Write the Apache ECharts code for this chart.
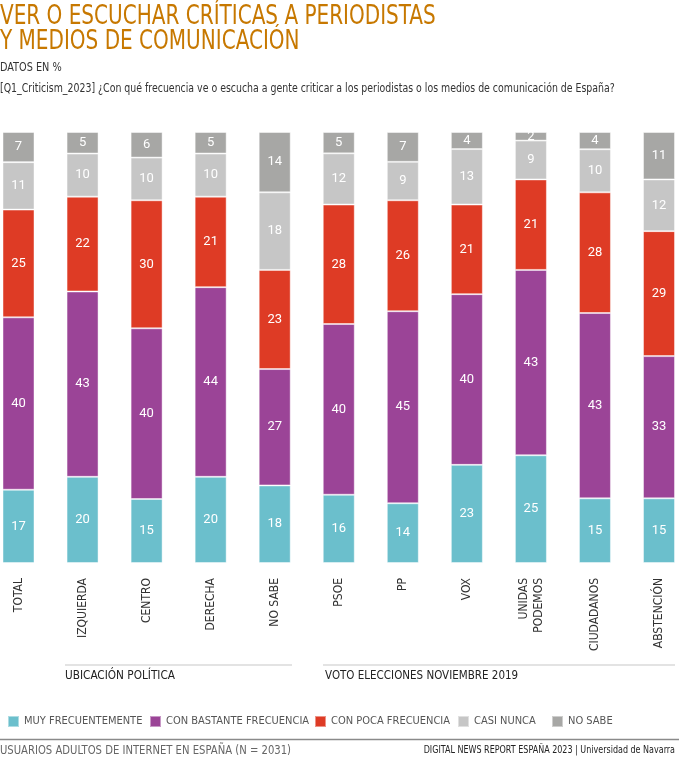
<!DOCTYPE html>
<html><head><meta charset="utf-8">
<script src="https://cdn.jsdelivr.net/npm/echarts@6/dist/echarts.min.js"></script>
<style>html,body{margin:0;padding:0;background:#fff}#c{width:679px;height:768px}</style>
</head><body><div id="c"></div>
<script>
const categories = ['TOTAL','IZQUIERDA','CENTRO','DERECHA','NO SABE','PSOE','PP','VOX','UNIDAS\nPODEMOS','CIUDADANOS','ABSTENCIÓN'];
const seriesNames = ['MUY FRECUENTEMENTE','CON BASTANTE FRECUENCIA','CON POCA FRECUENCIA','CASI NUNCA','NO SABE'];
const muyFrecuentemente = [17,20,15,20,18,16,14,23,25,15,15];
const conBastante = [40,43,40,44,27,40,45,40,43,43,33];
const conPoca = [25,22,30,21,23,28,26,21,21,28,29];
const casiNunca = [11,10,10,10,18,12,9,13,9,10,12];
const noSabe = [7,5,6,5,14,5,7,4,2,4,11];
const colors = ['#6bbfcc','#9b4497','#de3b25','#c6c6c6','#a7a7a5'];

const all = [muyFrecuentemente, conBastante, conPoca, casiNunca, noSabe];
const totals = categories.map((c,i)=>all.reduce((s,a)=>s+a[i],0));
const NARROW = '"DejaVu Sans Condensed","Liberation Sans Narrow","Open Sans",sans-serif';
const legendLefts = [2,144,309,452,546];

function txt(x,y,text,size,color,sx,align){
  return {type:'text', x:x, y:y, scaleX:sx, scaleY:1,
    style:{text:text, fill:color, font:size+'px '+NARROW, textAlign:align||'left', textVerticalAlign:'middle'}};
}

const chart = echarts.init(document.getElementById('c'), null, {renderer:'canvas'});
chart.setOption({
  animation:false,
  grid:{left:18.5, right:20, top:132, bottom:205},
  legend: seriesNames.map((n,k)=>({
    left:legendLefts[k], top:710, icon:'rect', itemWidth:11, itemHeight:11, itemGap:0,
    textStyle:{fontFamily:NARROW, fontSize:11, color:'#555'},
    data:[n]
  })),
  xAxis:{type:'category', data:categories, boundaryGap:false,
    axisLine:{show:false}, axisTick:{show:false}, splitLine:{show:false},
    axisLabel:{rotate:90, margin:15, interval:0, fontFamily:NARROW, fontSize:12, color:'#333', lineHeight:15}
  },
  yAxis:{type:'value', min:0, max:100, show:false, splitLine:{show:false}},
  series: all.map((arr,k)=>({
    name:seriesNames[k], type:'bar', stack:'s', barWidth:32, clip:false,
    itemStyle:{color:colors[k], borderColor:'rgba(255,255,255,0.45)', borderWidth:1},
    label:{show:true, position:'inside', color:'#fff', fontFamily:'Roboto, sans-serif', fontSize:13,
      formatter:p=>String(arr[p.dataIndex])},
    data: arr.map((v,i)=>v/totals[i]*100)
  })),
  graphic:[
    txt(0,17,'VER O ESCUCHAR CRÍTICAS A PERIODISTAS',26,'#c77800',0.856),
    txt(0,42,'Y MEDIOS DE COMUNICACIÓN',26,'#c77800',0.856),
    txt(0,68,'DATOS EN %',12,'#333',0.9),
    txt(0,89,'[Q1_Criticism_2023] ¿Con qué frecuencia ve o escucha a gente criticar a los periodistas o los medios de comunicación de España?',12,'#333',0.87),
    {type:'line', shape:{x1:65,y1:665,x2:292,y2:665}, style:{stroke:'#e3e3e3', lineWidth:2}},
    {type:'line', shape:{x1:323,y1:665,x2:675,y2:665}, style:{stroke:'#e3e3e3', lineWidth:2}},
    txt(65,676,'UBICACIÓN POLÍTICA',13,'#222',0.9),
    txt(325,676,'VOTO ELECCIONES NOVIEMBRE 2019',13,'#222',0.885),
    {type:'line', shape:{x1:0,y1:739.5,x2:679,y2:739.5}, style:{stroke:'#8a8a8a', lineWidth:1.5}},
    txt(0,751,'USUARIOS ADULTOS DE INTERNET EN ESPAÑA (N = 2031)',13,'#666',0.86),
    txt(675,750,'DIGITAL NEWS REPORT ESPAÑA 2023 | Universidad de Navarra',11,'#222',0.81,'right')
  ]
});
</script></body></html>
